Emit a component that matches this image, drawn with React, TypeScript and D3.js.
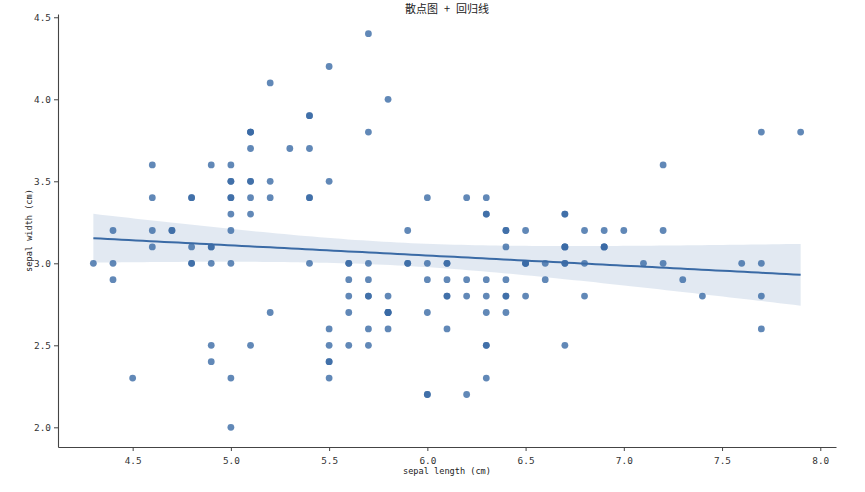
import { useEffect, useRef } from 'react'
import * as d3 from 'd3'

// iris: sepal length / sepal width (cm)
const sepalLength = [
  5.1, 4.9, 4.7, 4.6, 5.0, 5.4, 4.6, 5.0, 4.4, 4.9, 5.4, 4.8, 4.8, 4.3, 5.8, 5.7, 5.4, 5.1, 5.7, 5.1,
  5.4, 5.1, 4.6, 5.1, 4.8, 5.0, 5.0, 5.2, 5.2, 4.7, 4.8, 5.4, 5.2, 5.5, 4.9, 5.0, 5.5, 4.9, 4.4, 5.1,
  5.0, 4.5, 4.4, 5.0, 5.1, 4.8, 5.1, 4.6, 5.3, 5.0,
  7.0, 6.4, 6.9, 5.5, 6.5, 5.7, 6.3, 4.9, 6.6, 5.2, 5.0, 5.9, 6.0, 6.1, 5.6, 6.7, 5.6, 5.8, 6.2, 5.6,
  5.9, 6.1, 6.3, 6.1, 6.4, 6.6, 6.8, 6.7, 6.0, 5.7, 5.5, 5.5, 5.8, 6.0, 5.4, 6.0, 6.7, 6.3, 5.6, 5.5,
  5.5, 6.1, 5.8, 5.0, 5.6, 5.7, 5.7, 6.2, 5.1, 5.7,
  6.3, 5.8, 7.1, 6.3, 6.5, 7.6, 4.9, 7.3, 6.7, 7.2, 6.5, 6.4, 6.8, 5.7, 5.8, 6.4, 6.5, 7.7, 7.7, 6.0,
  6.9, 5.6, 7.7, 6.3, 6.7, 7.2, 6.2, 6.1, 6.4, 7.2, 7.4, 7.9, 6.4, 6.3, 6.1, 7.7, 6.3, 6.4, 6.0, 6.9,
  6.7, 6.9, 5.8, 6.8, 6.7, 6.7, 6.3, 6.5, 6.2, 5.9,
]
const sepalWidth = [
  3.5, 3.0, 3.2, 3.1, 3.6, 3.9, 3.4, 3.4, 2.9, 3.1, 3.7, 3.4, 3.0, 3.0, 4.0, 4.4, 3.9, 3.5, 3.8, 3.8,
  3.4, 3.7, 3.6, 3.3, 3.4, 3.0, 3.4, 3.5, 3.4, 3.2, 3.1, 3.4, 4.1, 4.2, 3.1, 3.2, 3.5, 3.6, 3.0, 3.4,
  3.5, 2.3, 3.2, 3.5, 3.8, 3.0, 3.8, 3.2, 3.7, 3.3,
  3.2, 3.2, 3.1, 2.3, 2.8, 2.8, 3.3, 2.4, 2.9, 2.7, 2.0, 3.0, 2.2, 2.9, 2.9, 3.1, 3.0, 2.7, 2.2, 2.5,
  3.2, 2.8, 2.5, 2.8, 2.9, 3.0, 2.8, 3.0, 2.9, 2.6, 2.4, 2.4, 2.7, 2.7, 3.0, 3.4, 3.1, 2.3, 3.0, 2.5,
  2.6, 3.0, 2.6, 2.3, 2.7, 3.0, 2.9, 2.9, 2.5, 2.8,
  3.3, 2.7, 3.0, 2.9, 3.0, 3.0, 2.5, 2.9, 2.5, 3.6, 3.2, 2.7, 3.0, 2.5, 2.8, 3.2, 3.0, 3.8, 2.6, 2.2,
  3.2, 2.8, 2.8, 2.7, 3.3, 3.2, 2.8, 3.0, 2.8, 3.0, 2.8, 3.8, 2.8, 2.8, 2.6, 3.0, 3.4, 3.1, 3.0, 3.1,
  3.1, 3.1, 2.7, 3.2, 3.3, 3.0, 2.5, 3.0, 3.4, 3.0,
]
const xTicks = [4.5, 5.0, 5.5, 6.0, 6.5, 7.0, 7.5, 8.0]
const yTicks = [2.0, 2.5, 3.0, 3.5, 4.0, 4.5]

const W = 865
const H = 492
const margin = { top: 14, right: 29, bottom: 45, left: 58 }
const blue = '#3a6aa5'
const tickFont = '"DejaVu Sans Mono", monospace'

export default function App() {
  const svgRef = useRef<SVGSVGElement>(null)

  useEffect(() => {
    if (!svgRef.current) return
    const svg = d3.select(svgRef.current)
    svg.selectAll('*').remove()

    const pts = sepalLength.map((x, i) => ({ x, y: sepalWidth[i] }))
    const [xMin, xMax] = d3.extent(sepalLength) as [number, number]
    const [yMin, yMax] = d3.extent(sepalWidth) as [number, number]
    const xPad = (xMax - xMin) * 0.05
    const yPad = (yMax - yMin) * 0.05

    const x = d3.scaleLinear().domain([xMin - xPad, xMax + xPad]).range([margin.left, W - margin.right])
    const y = d3.scaleLinear().domain([yMin - yPad, yMax + yPad]).range([H - margin.bottom, margin.top])

    // OLS fit + 95% CI
    const n = pts.length
    const mx = d3.mean(sepalLength)!
    const my = d3.mean(sepalWidth)!
    const sxx = d3.sum(sepalLength, v => (v - mx) ** 2)
    const sxy = d3.sum(pts, p => (p.x - mx) * (p.y - my))
    const slope = sxy / sxx
    const icpt = my - slope * mx
    const s = Math.sqrt(d3.sum(pts, p => (p.y - (icpt + slope * p.x)) ** 2) / (n - 2))
    const t = 1.976
    const grid = d3.range(0, 101).map(i => xMin + (xMax - xMin) * i / 100)
    const fit = grid.map(gx => {
      const yh = icpt + slope * gx
      const se = s * Math.sqrt(1 / n + (gx - mx) ** 2 / sxx)
      return { x: gx, y: yh, lo: yh - t * se, hi: yh + t * se }
    })

    svg.append('path')
      .datum(fit)
      .attr('d', d3.area<typeof fit[0]>().x(d => x(d.x)).y0(d => y(d.lo)).y1(d => y(d.hi)))
      .attr('fill', blue)
      .attr('fill-opacity', 0.15)

    svg.append('g')
      .selectAll('circle')
      .data(pts)
      .join('circle')
      .attr('cx', d => x(d.x))
      .attr('cy', d => y(d.y))
      .attr('r', 3.4)
      .attr('fill', blue)
      .attr('fill-opacity', 0.8)

    svg.append('path')
      .datum(fit)
      .attr('d', d3.line<typeof fit[0]>().x(d => x(d.x)).y(d => y(d.y)))
      .attr('fill', 'none')
      .attr('stroke', blue)
      .attr('stroke-width', 2)

    const xAxis = svg.append('g')
      .attr('transform', `translate(0,${H - margin.bottom})`)
      .call(d3.axisBottom(x).tickValues(xTicks).tickFormat(d3.format('.1f')).tickSize(4).tickSizeOuter(0))
    const yAxis = svg.append('g')
      .attr('transform', `translate(${margin.left},0)`)
      .call(d3.axisLeft(y).tickValues(yTicks).tickFormat(d3.format('.1f')).tickSize(4).tickSizeOuter(0))

    for (const ax of [xAxis, yAxis]) {
      ax.select('.domain').attr('stroke', '#444').attr('stroke-width', 1.1)
      ax.selectAll('.tick line').attr('stroke', '#444')
      ax.selectAll('.tick text')
        .attr('fill', '#333')
        .attr('font-family', tickFont)
        .attr('font-size', 9.4)
    }
    xAxis.selectAll('.tick text').attr('dy', '1.1em')

    svg.append('text')
      .attr('x', (margin.left + W - margin.right) / 2)
      .attr('y', 474)
      .attr('text-anchor', 'middle')
      .attr('font-family', tickFont)
      .attr('font-size', 8.6)
      .attr('fill', '#222')
      .text('sepal length (cm)')

    svg.append('text')
      .attr('transform', `translate(32,${(margin.top + H - margin.bottom) / 2}) rotate(-90)`)
      .attr('text-anchor', 'middle')
      .attr('font-family', tickFont)
      .attr('font-size', 8.6)
      .attr('fill', '#222')
      .text('sepal width (cm)')

    // title sits tight against the top edge, as in the source figure
    svg.append('text')
      .attr('x', (margin.left + W - margin.right) / 2)
      .attr('y', 12.5)
      .attr('text-anchor', 'middle')
      .attr('font-family', '"Noto Sans CJK SC", sans-serif')
      .attr('font-size', 11)
      .attr('word-spacing', 3.5)
      .attr('fill', '#222')
      .text('散点图 + 回归线')
  }, [])

  return (
    <svg
      ref={svgRef}
      width={W}
      height={H}
      style={{ position: 'absolute', left: 0, top: 0, background: '#fff' }}
    />
  )
}
